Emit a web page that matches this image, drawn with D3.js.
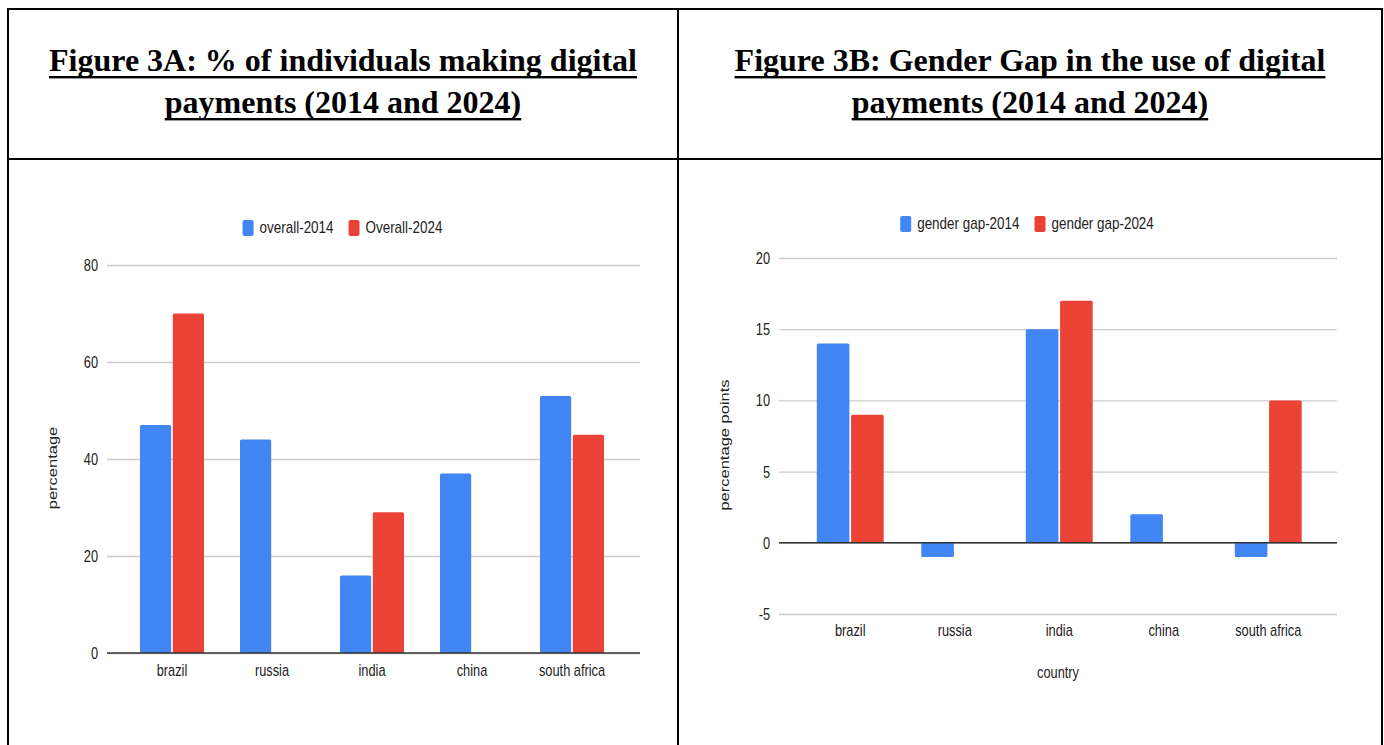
<!DOCTYPE html>
<html>
<head>
<meta charset="utf-8">
<script src="https://cdn.jsdelivr.net/npm/d3@7"></script>
<style>
  body { margin: 0; background: #fff; }
  svg { display: block; }
</style>
</head>
<body>
<svg id="fig" width="1384" height="745"></svg>
<script>
// ---- data ----
const countries = ["brazil", "russia", "india", "china", "south africa"];
const overall2014 = [47, 44, 16, 37, 53];
const overall2024 = [70, null, 29, null, 45];
const gap2014 = [14, -1, 15, 2, -1];
const gap2024 = [9, null, 17, null, 10];
const ticksA = [0, 20, 40, 60, 80];
const ticksB = [-5, 0, 5, 10, 15, 20];
const seriesA = ["overall-2014", "Overall-2024"];
const seriesB = ["gender gap-2014", "gender gap-2024"];
const titleA = ["Figure 3A: % of individuals making digital", "payments (2014 and 2024)"];
const titleB = ["Figure 3B: Gender Gap in the use of digital", "payments (2014 and 2024)"];

const COLORS = ["#4285F4", "#EA4335"];
const SANS = "'Liberation Sans', Arial, sans-serif";
const SERIF = "'Liberation Serif', 'Times New Roman', serif";
const SQ = 0.8;   // horizontal squeeze of the chart lettering
const SQL = 0.84; // legend lettering

const svg = d3.select("#fig");

// ---- table frame ----
const frame = svg.append("g").attr("stroke", "#000").attr("stroke-width", 2);
frame.append("line").attr("x1", 7).attr("x2", 1383).attr("y1", 9).attr("y2", 9);
frame.append("line").attr("x1", 7).attr("x2", 1383).attr("y1", 159).attr("y2", 159);
[8, 678, 1382].forEach(x =>
  frame.append("line").attr("x1", x).attr("x2", x).attr("y1", 8).attr("y2", 745));

// ---- titles ----
function drawTitle(lines, cx) {
  lines.forEach((t, i) => {
    const y = 71 + i * 42;
    const txt = svg.append("text")
      .attr("transform", `translate(${cx},${y})`)
      .attr("text-anchor", "middle")
      .attr("font-family", SERIF)
      .attr("font-weight", "bold")
      .attr("font-size", 32)
      .attr("fill", "#000")
      .text(t);
    const w = txt.node().getComputedTextLength();
    svg.append("rect")
      .attr("x", cx - w / 2).attr("y", y + 5)
      .attr("width", w).attr("height", 2.4)
      .attr("fill", "#000");
  });
}
drawTitle(titleA, 343);
drawTitle(titleB, 1030);

// squeezed label helper
function label(g, x, y, text, anchor, size, sq) {
  return g.append("text")
    .attr("transform", `translate(${x},${y}) scale(${sq || SQ},1)`)
    .attr("text-anchor", anchor)
    .attr("dominant-baseline", "central")
    .attr("font-family", SANS)
    .attr("font-size", size)
    .attr("fill", "#222")
    .text(text);
}

// ---- grouped bar chart ----
function barChart(cfg) {
  const g = svg.append("g");
  const y = d3.scaleLinear().domain(cfg.domain).range(cfg.yRange);
  const x0 = d3.scaleBand().domain(countries).range(cfg.xBand)
    .paddingInner(0.36).paddingOuter(0.18);
  const x1 = d3.scaleBand().domain([0, 1]).range([0, x0.bandwidth()]).paddingInner(0.05);

  // gridlines + tick labels
  const yAxis = g.append("g")
    .attr("transform", `translate(${cfg.gridX[0]},0)`)
    .call(d3.axisLeft(y).tickValues(cfg.ticks)
      .tickSize(-(cfg.gridX[1] - cfg.gridX[0])).tickFormat(d => String(d)));
  yAxis.select(".domain").remove();
  yAxis.selectAll(".tick line").attr("stroke", "#cccccc").attr("stroke-width", 1.3);
  yAxis.selectAll(".tick text")
    .attr("x", 0).attr("dy", null)
    .attr("dominant-baseline", "central")
    .attr("transform", `translate(-9,0) scale(${SQ},1)`)
    .attr("font-family", SANS).attr("font-size", 16).attr("fill", "#222");

  // bars
  const rows = countries.map((c, i) => ({ c, vals: cfg.series.map(s => s[i]) }));
  rows.forEach(r => {
    r.vals.forEach((v, k) => {
      if (v == null) return;
      g.append("rect")
        .attr("x", x0(r.c) + x1(k))
        .attr("y", y(Math.max(0, v)))
        .attr("width", x1.bandwidth())
        .attr("height", Math.abs(y(v) - y(0)))
        .attr("rx", 1.5)
        .attr("fill", COLORS[k]);
    });
  });

  // zero baseline
  g.append("line")
    .attr("x1", cfg.gridX[0]).attr("x2", cfg.gridX[1])
    .attr("y1", y(0)).attr("y2", y(0))
    .attr("stroke", "#333").attr("stroke-width", 1.6);

  // category labels
  const xAxis = g.append("g")
    .attr("transform", `translate(0,${cfg.catY})`)
    .call(d3.axisBottom(x0).tickSize(0).tickPadding(0));
  xAxis.select(".domain").remove();
  xAxis.selectAll(".tick text")
    .attr("y", 0).attr("dy", null)
    .attr("dominant-baseline", "central")
    .attr("transform", `scale(${SQ},1)`)
    .attr("font-family", SANS).attr("font-size", 16).attr("fill", "#222");

  // y axis title
  g.append("text")
    .attr("transform", `translate(${cfg.yTitle[0]},${cfg.yTitle[1]}) rotate(-90) scale(1,${SQ})`)
    .attr("text-anchor", "middle")
    .attr("dominant-baseline", "central")
    .attr("font-family", SANS).attr("font-size", 16.5).attr("fill", "#222")
    .text(cfg.yLabel);

  if (cfg.xLabel) label(g, cfg.xTitle[0], cfg.xTitle[1], cfg.xLabel, "middle", 16);

  // legend
  const lg = g.append("g");
  let cx = 0;
  cfg.names.forEach((n, k) => {
    lg.append("rect").attr("x", cx).attr("y", -8).attr("width", 11).attr("height", 16)
      .attr("rx", 2).attr("fill", COLORS[k]);
    const t = label(lg, cx + 17, 0, n, "start", 16, SQL);
    cx += 17 + t.node().getComputedTextLength() * SQL + 15;
  });
  const total = cx - 15;
  lg.attr("transform", `translate(${cfg.legend[0] - total / 2},${cfg.legend[1]})`);
}

barChart({
  series: [overall2014, overall2024],
  names: seriesA,
  domain: [0, 80], yRange: [653, 265], ticks: ticksA,
  xBand: [122, 622], gridX: [107, 640],
  catY: 670, yTitle: [52, 468], yLabel: "percentage",
  legend: [342.5, 228]
});

barChart({
  series: [gap2014, gap2024],
  names: seriesB,
  domain: [-5, 20], yRange: [614, 258], ticks: ticksB,
  xBand: [798, 1320.5], gridX: [779, 1337],
  catY: 630, yTitle: [724, 445], yLabel: "percentage points",
  xLabel: "country", xTitle: [1058, 672],
  legend: [1027, 224]
});
</script>
</body>
</html>
